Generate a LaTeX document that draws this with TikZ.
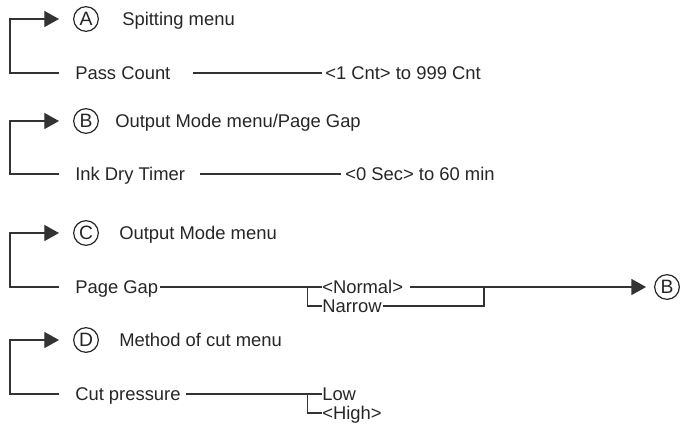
\documentclass[tikz,border=0pt]{standalone}
\usepackage{fontspec}
\setmainfont{Liberation Sans}
\usetikzlibrary{arrows.meta}
\tikzset{
  lbl/.style={anchor=west, inner sep=0pt, text height=9.9pt, text depth=0pt,
    text=black!85, font=\fontsize{13.8}{16}\selectfont},
  tag/.style={circle, draw=black!85, line width=0.9pt, inner sep=0pt,
    minimum size=18.5pt, text=black!85, font=\fontsize{14.5}{16}\selectfont},
  wire/.style={draw=black!80, line width=0.95pt},
  jump/.style={wire, -{Triangle[length=11pt,width=12pt]}},
}
\begin{document}
\begin{tikzpicture}[x=0.75pt,y=-0.75pt]
\useasboundingbox (0,0) rectangle (680,425);

% A
\node[tag] (tA) at (86,19) {A};
\node[lbl] (mA) at (122,19) {Spitting menu};
\node[lbl] (pass) at (75,73) {Pass Count};
\node[lbl] (passv) at (325,73) {<1 Cnt> to 999 Cnt};
\coordinate (sA) at ([xshift=-12pt]pass.west);
\draw[jump] (sA) -- ++(-49,0) |- (sA |- tA);
\draw[wire] ([xshift=17pt]pass.east) -- ([xshift=-2pt]passv.west);

% B
\node[tag] (tB) at (86,121) {B};
\node[lbl] (mB) at (115,121) {Output Mode menu/Page Gap};
\node[lbl] (ink) at (75,174) {Ink Dry Timer};
\node[lbl] (inkv) at (345,174) {<0 Sec> to 60 min};
\coordinate (sB) at ([xshift=-12pt]ink.west);
\draw[jump] (sB) -- ++(-49,0) |- (sB |- tB);
\draw[wire] ([xshift=11pt]ink.east) -- ([xshift=-3pt]inkv.west);

% C
\node[tag] (tC) at (86,233) {C};
\node[lbl] (mC) at (119,233) {Output Mode menu};
\node[lbl] (gap) at (75,287) {Page Gap};
\node[lbl] (normal) at (322,287) {<Normal>};
\node[lbl] (narrow) at (322,306) {Narrow};
\node[tag] (tB2) at (667,287) {B};
\coordinate (sC) at ([xshift=-12pt]gap.west);
\coordinate (jC) at ([xshift=-11pt]normal.west);
\coordinate (jN) at (484,287);
\draw[jump] (sC) -- ++(-49,0) |- (sC |- tC);
\draw[wire] ([xshift=1pt]gap.east) -- (normal.west);
\draw[wire] (jC) |- (narrow.west);
\draw[wire] ([xshift=1pt]narrow.east) -| (jN);
\draw[jump, shorten >=6pt] ([xshift=5pt]normal.east) -- (tB2.west);

% D
\node[tag] (tD) at (86,340) {D};
\node[lbl] (mD) at (119,340) {Method of cut menu};
\node[lbl] (cut) at (75,394) {Cut pressure};
\node[lbl] (low) at (322,394) {Low};
\node[lbl] (high) at (322,413) {<High>};
\coordinate (sD) at ([xshift=-12pt]cut.west);
\coordinate (jD) at ([xshift=-11pt]low.west);
\draw[jump] (sD) -- ++(-49,0) |- (sD |- tD);
\draw[wire] ([xshift=4pt]cut.east) -- (low.west);
\draw[wire] (jD) |- (high.west);
\end{tikzpicture}
\end{document}
